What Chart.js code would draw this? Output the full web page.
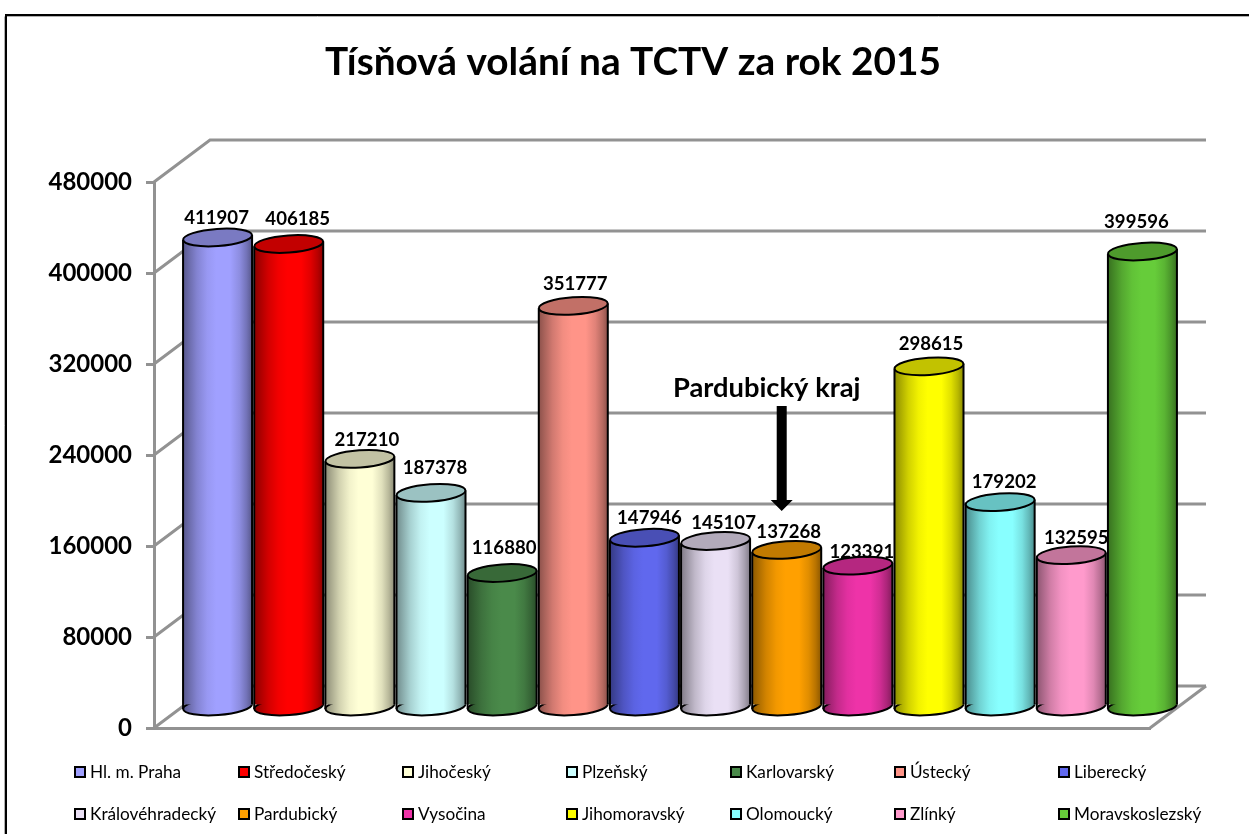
<!DOCTYPE html>
<html lang="cs">
<head>
<meta charset="utf-8">
<title>Tísňová volání na TCTV za rok 2015</title>
<script src="https://cdn.jsdelivr.net/npm/chart.js@4"></script>
<style>
html,body{margin:0;padding:0;background:#fff;overflow:hidden}
#wrap{position:absolute;left:0;top:0;width:1249px;height:834px}
</style>
</head>
<body>
<div id="wrap"><canvas id="c" width="1249" height="834"></canvas></div>
<script>
const categories = ["Hl. m. Praha","Středočeský","Jihočeský","Plzeňský","Karlovarský","Ústecký","Liberecký","Královéhradecký","Pardubický","Vysočina","Jihomoravský","Olomoucký","Zlínký","Moravskoslezský"];
const calls = [411907,406185,217210,187378,116880,351777,147946,145107,137268,123391,298615,179202,132595,399596];
const colours = ["#A0A0FF","#FF0000","#FFFFD6","#CCFFFF","#4A8A4A","#FF9488","#6068EE","#EAE0F5","#FFA000","#EE33A8","#FFFF00","#88FFFF","#FF9ACC","#66CC3A"];
const chartTitle = "Tísňová volání na TCTV za rok 2015";
const calloutText = "Pardubický kraj";
const calloutIndex = 8;

// Drawing geometry (kept apart from the data)
const FONT = "Lato, Carlito, sans-serif";
const GRID = "#929292";
const DEPTH = {x:56, y:-42};       // front plane to back wall
const BAR = {x:28, y:-22};         // front plane to the plane of the cylinders
const BAR_SHARE = .97;
const BASE_DROP = 2;
const RY = 8.6, TILT = -4.1*Math.PI/180;
const labelShift = [[-1,-19],[9,-25],[7,-19],[4,-25],[2,-25],[2,-22],[5,-20],[8,-18],[2,-18],[4,-14],[2,-22],[4,-20],[5,-17],[-6,-29]];

function shade(hex,f){
  const n=parseInt(hex.slice(1),16);
  return `rgb(${Math.round((n>>16&255)*f)},${Math.round((n>>8&255)*f)},${Math.round((n&255)*f)})`;
}
function barGradient(ctx){
  const col=colours[ctx.dataIndex], x=ctx.chart.scales.x;
  if(!x||!ctx.chart.chartArea) return col;
  const cx=x.getPixelForValue(ctx.dataIndex);
  const w=ctx.chart.chartArea.width/categories.length*BAR_SHARE/2;
  const g=ctx.chart.ctx.createLinearGradient(cx-w,0,cx+w,0);
  g.addColorStop(0,shade(col,.55));
  g.addColorStop(.08,shade(col,.66));
  g.addColorStop(.2,shade(col,.82));
  g.addColorStop(.35,shade(col,.95));
  g.addColorStop(.48,col);
  g.addColorStop(.68,col);
  g.addColorStop(.82,shade(col,.88));
  g.addColorStop(.92,shade(col,.72));
  g.addColorStop(1,shade(col,.55));
  return g;
}

const scene = {
  id:'scene',
  beforeDatasetsDraw(chart){
    const {ctx,chartArea:a,scales:{y}}=chart;
    ctx.save();
    ctx.strokeStyle=GRID; ctx.lineWidth=3; ctx.lineCap='butt'; ctx.lineJoin='miter';
    y.ticks.forEach(t=>{
      const py=y.getPixelForValue(t.value);
      ctx.beginPath();
      ctx.moveTo(a.left,py);
      ctx.lineTo(a.left+DEPTH.x,py+DEPTH.y);
      ctx.lineTo(a.right+DEPTH.x,py+DEPTH.y);
      ctx.stroke();
    });
    ctx.beginPath();
    ctx.moveTo(a.right,a.bottom);
    ctx.lineTo(a.right+DEPTH.x,a.bottom+DEPTH.y);
    ctx.stroke();
    ctx.restore();
  },
  beforeDatasetDraw(chart){
    chart.ctx.save();
    chart.ctx.translate(BAR.x,BAR.y);
    const {ctx}=chart, meta=chart.getDatasetMeta(0);
    meta.data.forEach((b,i)=>{
      const rx=b.width/2;
      ctx.beginPath();
      ctx.ellipse(b.x,b.base+BASE_DROP,rx,RY,TILT,0,Math.PI*2);
      ctx.fillStyle=barGradient({dataIndex:i,chart});
      ctx.strokeStyle='#000'; ctx.lineWidth=2;
      ctx.fill(); ctx.stroke();
    });
  },
  afterDatasetDraw(chart){
    const {ctx}=chart, meta=chart.getDatasetMeta(0);
    meta.data.forEach((b,i)=>{
      const rx=b.width/2, dy=rx*Math.sin(TILT)*-1, end=b.base+BASE_DROP;
      ctx.strokeStyle='#000'; ctx.lineWidth=2;
      ctx.beginPath();
      ctx.moveTo(b.x-rx,b.y+dy); ctx.lineTo(b.x-rx,end+dy);
      ctx.moveTo(b.x+rx,b.y-dy); ctx.lineTo(b.x+rx,end-dy);
      ctx.stroke();
      ctx.beginPath();
      ctx.ellipse(b.x,b.y,rx,RY,TILT,0,Math.PI*2);
      ctx.fillStyle=shade(colours[i],.76);
      ctx.fill(); ctx.stroke();
    });
    ctx.restore();
  },
  afterDatasetsDraw(chart){
    const {ctx,scales:{x}}=chart, meta=chart.getDatasetMeta(0);
    ctx.save();
    // value labels
    ctx.fillStyle='#000'; ctx.textAlign='center'; ctx.textBaseline='middle';
    ctx.font=`bold 18.6px ${FONT}`;
    meta.data.forEach((b,i)=>{
      ctx.fillText(String(calls[i]),b.x+BAR.x+labelShift[i][0],b.y+BAR.y+labelShift[i][1]);
    });
    // callout
    const ax=x.getPixelForValue(calloutIndex)+BAR.x-5;
    ctx.font=`bold 27.3px ${FONT}`;
    ctx.fillText(calloutText,ax-15,388);
    ctx.beginPath();
    ctx.moveTo(ax-5,406);ctx.lineTo(ax+5,406);ctx.lineTo(ax+5,500);ctx.lineTo(ax+11,500);
    ctx.lineTo(ax,511);ctx.lineTo(ax-11,500);ctx.lineTo(ax-5,500);ctx.closePath();
    ctx.fill();
    // legend (two rows of seven equal columns)
    ctx.textAlign='left';
    ctx.font=`17.2px ${FONT}`;
    categories.forEach((name,i)=>{
      const col=i%7,row=Math.floor(i/7);
      const lx=75+164*col, ly=772+42*row;
      ctx.fillStyle=colours[i];
      ctx.strokeStyle='#000'; ctx.lineWidth=2;
      ctx.fillRect(lx,ly-5,10,10);
      ctx.strokeRect(lx,ly-5,10,10);
      ctx.fillStyle='#000';
      ctx.fillText(name,lx+15,ly);
    });
    // outer frame: open at right and bottom, with a faint grey edge
    ctx.lineWidth=1; ctx.strokeStyle='#b0b0b0';
    ctx.beginPath();
    ctx.moveTo(4.5,834);ctx.lineTo(4.5,16.5);ctx.moveTo(7,16.5);ctx.lineTo(1249,16.5);
    ctx.stroke();
    ctx.lineWidth=2; ctx.strokeStyle='#000';
    ctx.beginPath();
    ctx.moveTo(6,834);ctx.lineTo(6,15);ctx.lineTo(1249,15);
    ctx.stroke();
    ctx.restore();
  }
};

new Chart(document.getElementById('c'),{
  type:'bar',
  data:{labels:categories,datasets:[{
    label:chartTitle,data:calls,clip:false,
    backgroundColor:barGradient,borderWidth:0,
    categoryPercentage:BAR_SHARE,barPercentage:1
  }]},
  options:{
    responsive:false,animation:false,
    layout:{padding:{left:17,right:0,top:0,bottom:106}},
    plugins:{
      legend:{display:false},tooltip:{enabled:false},
      title:{display:true,text:chartTitle,color:'#000',
        font:{family:FONT,size:38.8,weight:'bold',lineHeight:1.2},
        padding:{top:39,bottom:96.44}}
    },
    scales:{
      x:{grid:{display:false},ticks:{display:false},
        border:{display:true,color:GRID,width:3},
        afterFit(s){s.height=0}},
      y:{min:0,max:480000,
        ticks:{stepSize:80000,color:'#000',padding:14,
          font:{family:FONT,size:24,weight:'bold'},callback:v=>String(v)},
        grid:{drawOnChartArea:false,drawTicks:true,tickLength:8,color:GRID,lineWidth:3},
        border:{display:true,color:GRID,width:3},
        afterFit(s){s.width=137}},
      yr:{position:'right',display:true,min:0,max:1,
        ticks:{display:false},grid:{display:false},border:{display:false},
        afterFit(s){s.width=99}}
    }
  },
  plugins:[scene]
});
</script>
</body>
</html>
